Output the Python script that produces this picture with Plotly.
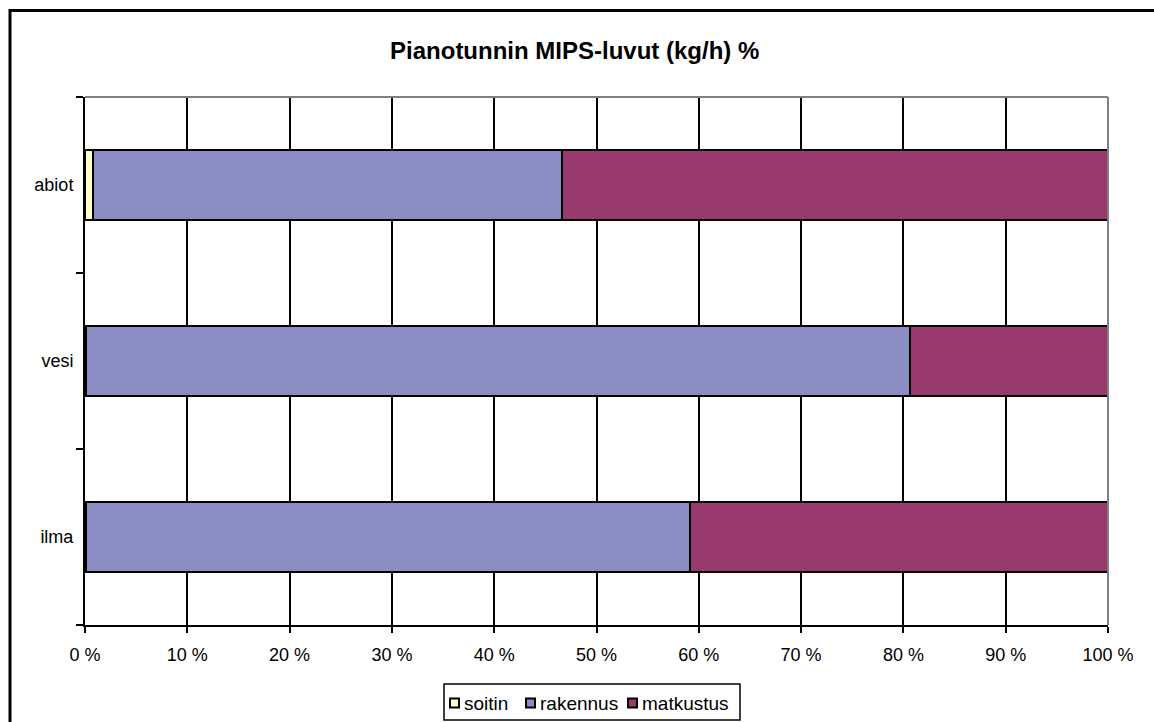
import plotly.graph_objects as go

# Categories (bottom to top) and series shares in percent
categories = ["ilma", "vesi", "abiot"]
soitin = [0.1, 0.1, 0.8]
rakennus = [59.0, 80.5, 45.8]
matkustus = [40.9, 19.4, 53.4]

x_ticks = list(range(0, 101, 10))
x_tick_labels = [f"{v} %" for v in x_ticks]

series_names = ["soitin", "rakennus", "matkustus"]
series_values = [soitin, rakennus, matkustus]
series_colors = ["#FFFFCC", "#8A8CC2", "#983A6B"]

W, H = 1154, 722
L, R, T, B = 85, 46, 97, 97
PW, PH = W - L - R, H - T - B


def px_x(x):
    return (x - L) / PW


def px_y(y):
    return (H - B - y) / PH


fig = go.Figure()
for name, vals, color in zip(series_names, series_values, series_colors):
    fig.add_trace(go.Bar(
        y=categories, x=vals, name=name, orientation="h",
        marker=dict(color=color, line=dict(color="black", width=2)),
        showlegend=False,
    ))

font_family = "Liberation Sans, Arial, sans-serif"

fig.update_layout(
    width=W, height=H,
    barmode="stack", bargap=0.6,
    paper_bgcolor="white", plot_bgcolor="white",
    margin=dict(l=L, r=R, t=T, b=B, autoexpand=False),
    font=dict(family=font_family, size=18, color="black"),
    title=dict(text="<b>Pianotunnin MIPS-luvut (kg/h) %</b>", xref="container",
               x=0.498, xanchor="center", y=1 - 51 / H, yanchor="middle",
               font=dict(size=24, family=font_family)),
    showlegend=False,
    xaxis=dict(range=[0, 100], tickvals=x_ticks, ticktext=x_tick_labels,
               showgrid=True, gridcolor="black", gridwidth=2,
               showline=True, linecolor="black", linewidth=2,
               ticks="outside", ticklen=6, tickwidth=2, tickcolor="black",
               ticklabelstandoff=6, zeroline=False, automargin=False),
    yaxis=dict(categoryorder="array", categoryarray=categories,
               showgrid=False, showline=True, linecolor="black", linewidth=2,
               ticks="outside", ticklen=7, tickwidth=2, tickcolor="black",
               tickson="boundaries", ticklabelstandoff=6, automargin=False),
)

# Gray frame on the top and right edges of the plot area
fig.add_shape(type="line", xref="paper", yref="paper", x0=0, x1=1, y0=1, y1=1,
              line=dict(color="#808080", width=2))
fig.add_shape(type="line", xref="paper", yref="paper", x0=1, x1=1, y0=0, y1=1,
              line=dict(color="#808080", width=2))

# Outer chart border (runs past the right and bottom edges of the page)
fig.add_shape(type="rect", xref="paper", yref="paper",
              x0=px_x(10), x1=3, y0=-3, y1=px_y(10.5),
              line=dict(color="black", width=3), layer="above")

# Legend: bordered box with a swatch and a label per series
fig.add_shape(type="rect", xref="paper", yref="paper",
              x0=px_x(444), x1=px_x(740), y0=px_y(720), y1=px_y(684),
              line=dict(color="black", width=1.5), fillcolor="white")
legend_item_x = [450, 526, 628]
for name, color, x in zip(series_names, series_colors, legend_item_x):
    fig.add_shape(type="rect", xref="paper", yref="paper",
                  x0=px_x(x), x1=px_x(x + 9), y0=px_y(707.5), y1=px_y(698.5),
                  line=dict(color="black", width=2), fillcolor=color)
    fig.add_annotation(text=name, xref="paper", yref="paper",
                       x=px_x(x + 12), y=px_y(703), xanchor="left", yanchor="middle",
                       showarrow=False, font=dict(size=19, family=font_family))

fig.write_html("out.html")
